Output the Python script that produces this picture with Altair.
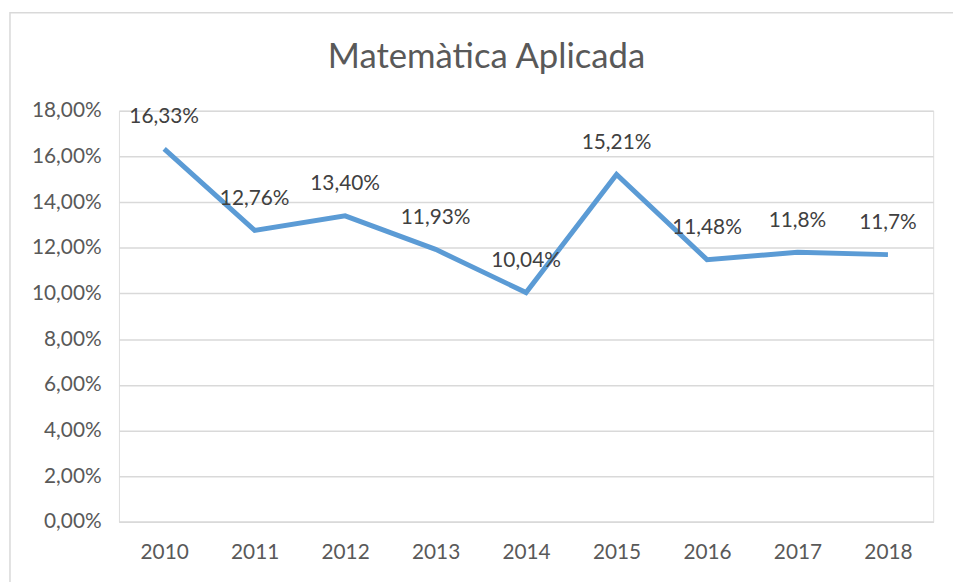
import altair as alt
import pandas as pd

years = ["2010", "2011", "2012", "2013", "2014", "2015", "2016", "2017", "2018"]
values = [16.33, 12.76, 13.40, 11.93, 10.04, 15.21, 11.48, 11.8, 11.7]
labels = ["16,33%", "12,76%", "13,40%", "11,93%", "10,04%", "15,21%", "11,48%", "11,8%", "11,7%"]
y_ticks = [0, 0.02, 0.04, 0.06, 0.08, 0.10, 0.12, 0.14, 0.16, 0.18]
title_text = "Matemàtica Aplicada"

df = pd.DataFrame({"year": years, "value": [v / 100 for v in values], "label": labels})

W, H = 822, 415
FONT = "Lato"
FS = 21

x = alt.X("year:N", sort=years, title=None,
          scale=alt.Scale(paddingInner=0, paddingOuter=0.5),
          axis=alt.Axis(labelAngle=0, ticks=False, domain=True, domainColor="#d9d9d9",
                        domainWidth=1.5, labelPadding=20, labelFontSize=FS, labelColor="#595959",
                        labelFont=FONT, grid=False))
y = alt.Y("value:Q", title=None,
          scale=alt.Scale(domain=[0, 0.18], nice=False),
          axis=alt.Axis(values=y_ticks, ticks=False, domain=False, gridColor="#d9d9d9",
                        gridWidth=1.5, labelPadding=18, labelFontSize=FS, labelColor="#595959",
                        labelFont=FONT,
                        labelExpr="replace(format(datum.value, '.2%'), '.', ',')"))

base = alt.Chart(df)
one = pd.DataFrame({"t": [title_text]})

border = alt.Chart(one).mark_rect(
    fill=None, stroke="#d9d9d9", strokeWidth=1.5
).encode(x=alt.value(-110), x2=alt.value(W + 60), y=alt.value(-99), y2=alt.value(H + 100))

title = alt.Chart(one).mark_text(
    fontSize=35, font=FONT, color="#595959", baseline="middle", align="center"
).encode(x=alt.value(371), y=alt.value(-54), text="t:N")

line = base.mark_line(color="#5B9BD5", strokeWidth=5, strokeJoin="miter").encode(x=x, y=y)
text = base.mark_text(dy=-32, fontSize=FS, color="#404040", font=FONT).encode(
    x=x, y=y, text="label:N")

chart = alt.layer(border, title, line, text).properties(
    width=W, height=H,
    autosize=alt.AutoSizeParams(type="none"),
    padding={"left": 112, "top": 101, "right": 20, "bottom": 58},
).configure_view(stroke=None).configure(background="white")

chart.save("out.html", embed_options={"renderer": "svg", "actions": False})
